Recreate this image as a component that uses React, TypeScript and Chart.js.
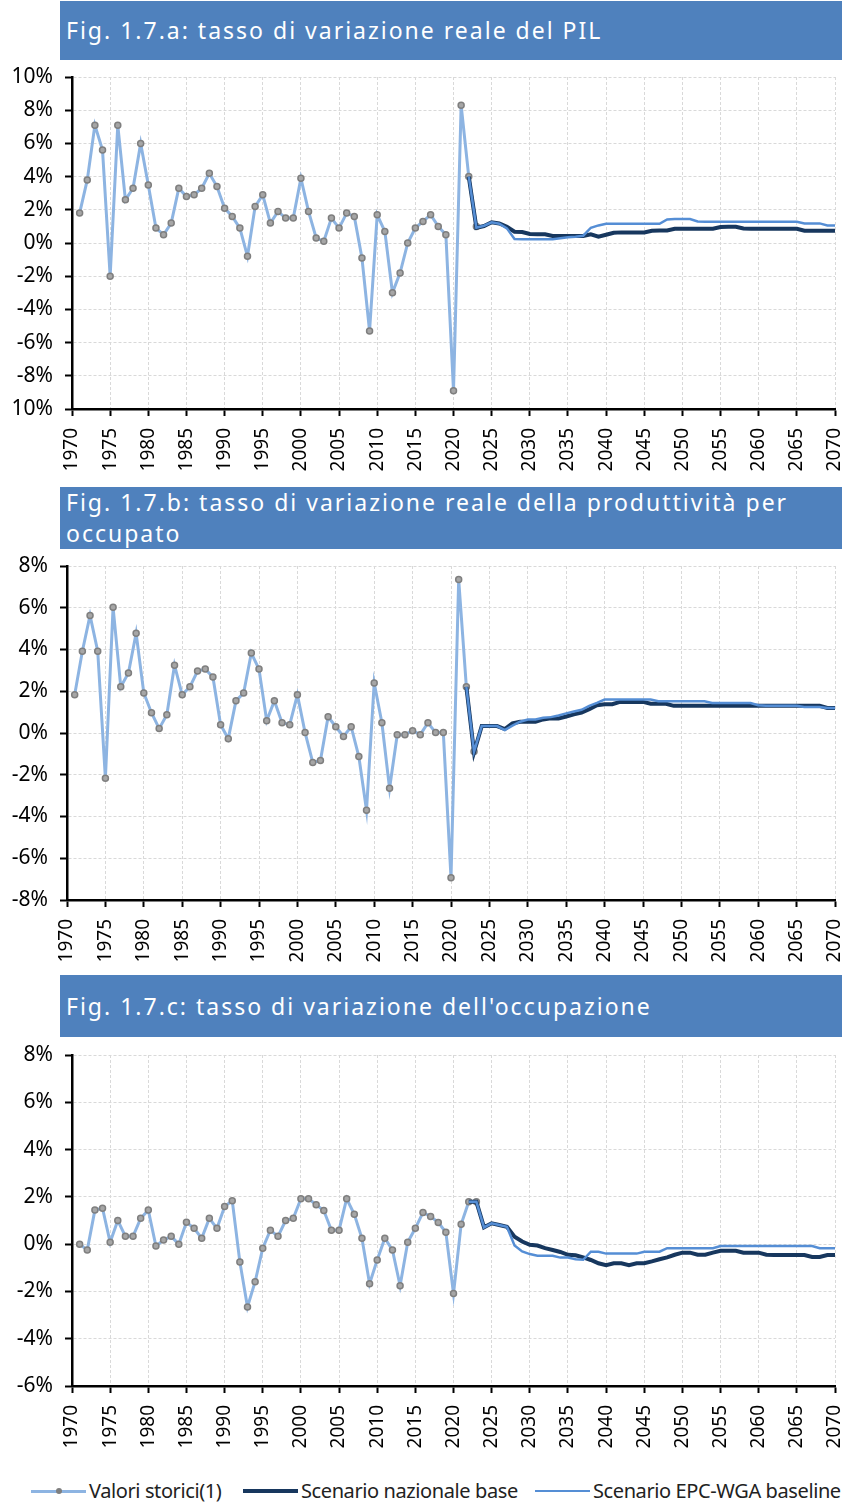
import React, { useEffect, useRef } from "react";
import { Chart, registerables } from "chart.js";
Chart.register(...registerables);

// ---------- DATA ----------
const histYears: number[] = Array.from({ length: 53 }, (_, i) => 1971 + i); // 1971..2023
const scenYears: number[] = Array.from({ length: 49 }, (_, i) => 2022 + i); // 2022..2070
const xTicks: number[] = [1970, 1975, 1980, 1985, 1990, 1995, 2000, 2005, 2010, 2015, 2020, 2025, 2030, 2035, 2040, 2045, 2050, 2055, 2060, 2065, 2070];

// Fig. 1.7.a PIL
const pilHist = [
  1.8, 3.8, 7.1, 5.6, -2.0, 7.1, 2.6, 3.3, 6.0, 3.5,
  0.9, 0.5, 1.2, 3.3, 2.8, 2.9, 3.3, 4.2, 3.4, 2.1,
  1.6, 0.9, -0.8, 2.2, 2.9, 1.2, 1.9, 1.5, 1.5, 3.9,
  1.9, 0.3, 0.1, 1.5, 0.9, 1.8, 1.6, -0.9, -5.3, 1.7,
  0.7, -3.0, -1.8, 0.0, 0.9, 1.3, 1.7, 1.0, 0.5, -8.9,
  8.3, 4.0, 1.0,
];
const pilNaz = [
  4.0, 0.92, 1.02, 1.25, 1.18, 0.98, 0.68, 0.66, 0.54, 0.52,
  0.52, 0.42, 0.42, 0.42, 0.42, 0.42, 0.52, 0.38, 0.5, 0.62,
  0.64, 0.64, 0.64, 0.64, 0.74, 0.76, 0.76, 0.86, 0.86, 0.86,
  0.86, 0.86, 0.86, 0.96, 0.98, 0.98, 0.88, 0.86, 0.86, 0.86,
  0.86, 0.86, 0.86, 0.86, 0.74, 0.74, 0.74, 0.74, 0.74,
];
const pilEpc = [
  4.0, 0.92, 1.04, 1.25, 1.16, 0.88, 0.24, 0.22, 0.22, 0.22,
  0.22, 0.22, 0.28, 0.34, 0.38, 0.44, 0.92, 1.06, 1.16, 1.16,
  1.16, 1.16, 1.16, 1.16, 1.16, 1.16, 1.42, 1.44, 1.44, 1.44,
  1.3, 1.28, 1.28, 1.28, 1.28, 1.28, 1.28, 1.28, 1.28, 1.28,
  1.28, 1.28, 1.28, 1.28, 1.18, 1.18, 1.18, 1.06, 1.06,
];

// Fig. 1.7.b produttività per occupato
const prodHist = [
  1.83, 3.92, 5.63, 3.92, -2.17, 6.02, 2.21, 2.87, 4.78, 1.92,
  0.97, 0.21, 0.87, 3.25, 1.83, 2.21, 2.97, 3.06, 2.68, 0.4,
  -0.27, 1.54, 1.92, 3.83, 3.06, 0.59, 1.54, 0.49, 0.4, 1.83,
  0.02, -1.41, -1.32, 0.78, 0.3, -0.17, 0.3, -1.13, -3.7, 2.4,
  0.49, -2.65, -0.08, -0.08, 0.11, -0.08, 0.49, 0.02, 0.02, -6.94,
  7.35, 2.21, -0.89,
];
const prodNaz = [
  2.21, -0.92, 0.33, 0.33, 0.33, 0.19, 0.46, 0.54, 0.54, 0.54,
  0.65, 0.7, 0.7, 0.79, 0.89, 0.98, 1.14, 1.33, 1.38, 1.38,
  1.49, 1.49, 1.49, 1.49, 1.4, 1.4, 1.4, 1.3, 1.3, 1.3,
  1.3, 1.3, 1.3, 1.3, 1.3, 1.3, 1.3, 1.3, 1.3, 1.3,
  1.3, 1.3, 1.3, 1.3, 1.3, 1.3, 1.3, 1.2, 1.2,
];
const prodEpc = [
  2.21, -0.89, 0.33, 0.33, 0.33, 0.14, 0.35, 0.54, 0.65, 0.65,
  0.73, 0.76, 0.84, 0.94, 1.03, 1.11, 1.3, 1.44, 1.6, 1.6,
  1.6, 1.6, 1.6, 1.6, 1.6, 1.52, 1.52, 1.52, 1.52, 1.52,
  1.52, 1.52, 1.44, 1.44, 1.44, 1.44, 1.44, 1.44, 1.33, 1.3,
  1.3, 1.3, 1.3, 1.3, 1.25, 1.25, 1.25, 1.2, 1.2,
];

// Fig. 1.7.c occupazione
const occHist = [
  0.0, -0.25, 1.44, 1.52, 0.08, 1.0, 0.33, 0.33, 1.09, 1.44,
  -0.08, 0.17, 0.33, 0.0, 0.93, 0.67, 0.25, 1.09, 0.67, 1.59,
  1.84, -0.75, -2.66, -1.59, -0.17, 0.59, 0.33, 1.0, 1.09, 1.92,
  1.92, 1.67, 1.42, 0.59, 0.59, 1.92, 1.26, 0.25, -1.67, -0.67,
  0.25, -0.25, -1.76, 0.08, 0.67, 1.34, 1.17, 0.92, 0.5, -2.09,
  0.84, 1.79, 1.79,
];
const occNaz = [
  1.79, 1.79, 0.71, 0.88, 0.81, 0.73, 0.31, 0.11, -0.03, -0.06,
  -0.17, -0.25, -0.33, -0.45, -0.47, -0.56, -0.67, -0.81, -0.89, -0.81,
  -0.81, -0.89, -0.81, -0.81, -0.73, -0.64, -0.56, -0.45, -0.36, -0.36,
  -0.45, -0.45, -0.36, -0.28, -0.28, -0.28, -0.36, -0.36, -0.36, -0.45,
  -0.46, -0.46, -0.46, -0.46, -0.46, -0.54, -0.54, -0.46, -0.46,
];
const occEpc = [
  1.79, 1.79, 0.71, 0.88, 0.81, 0.73, -0.06, -0.31, -0.42, -0.49,
  -0.49, -0.49, -0.57, -0.57, -0.64, -0.66, -0.32, -0.32, -0.4, -0.4,
  -0.4, -0.4, -0.4, -0.32, -0.32, -0.32, -0.17, -0.17, -0.17, -0.17,
  -0.17, -0.17, -0.17, -0.08, -0.08, -0.08, -0.08, -0.08, -0.08, -0.08,
  -0.08, -0.08, -0.08, -0.08, -0.08, -0.08, -0.17, -0.17, -0.17,
];

const legendLabels = ["Valori storici(1)", "Scenario nazionale base", "Scenario EPC-WGA baseline"];
const titles = [
  ["Fig. 1.7.a: tasso di variazione reale del PIL"],
  ["Fig. 1.7.b: tasso di variazione reale della produttività per", "occupato"],
  ["Fig. 1.7.c: tasso di variazione dell'occupazione"],
];

// ---------- STYLE ----------
const C_HIST = "#8DB4E2";
const C_NAZ = "#17375E";
const C_EPC = "#558ED5";
const FONT = "'Noto Sans', 'DejaVu Sans', sans-serif";

type Cfg = {
  hist: number[];
  naz: number[];
  epc: number[];
  yMin: number;
  yMax: number;
  top: number;
  height: number;
  padTop: number;
  axisLeft: number;
  plotBottom: number; // canvas coord
  labelMinusHidden?: boolean;
};

const zeroPad = (s: any) => {
  s.paddingLeft = 0;
  s.paddingRight = 0;
  s.paddingTop = 0;
  s.paddingBottom = 0;
};

function LineChart({ cfg }: { cfg: Cfg }) {
  const ref = useRef<HTMLCanvasElement | null>(null);
  useEffect(() => {
    if (!ref.current) return;
    const toPts = (xs: number[], ys: number[]) => xs.map((x, i) => ({ x, y: ys[i] }));
    const xAxisH = cfg.height - cfg.plotBottom;
    const chart = new Chart(ref.current, {
      type: "line",
      data: {
        datasets: [
          {
            label: legendLabels[2],
            data: toPts(scenYears, cfg.epc),
            borderColor: C_EPC,
            borderWidth: 2.5,
            pointRadius: 0,
            tension: 0,
            order: 0,
          },
          {
            label: legendLabels[1],
            data: toPts(scenYears, cfg.naz),
            borderColor: C_NAZ,
            borderWidth: 4,
            pointRadius: 0,
            tension: 0,
            order: 1,
          },
          {
            label: legendLabels[0],
            data: toPts(histYears, cfg.hist),
            borderColor: C_HIST,
            borderWidth: 3,
            pointRadius: 3,
            pointBackgroundColor: "#A6A6A6",
            pointBorderColor: "#7F7F7F",
            pointBorderWidth: 1.5,
            tension: 0,
            order: 2,
          },
        ],
      },
      options: {
        animation: false,
        responsive: false,
        maintainAspectRatio: false,
        layout: { padding: { top: cfg.padTop, right: 13, left: 0, bottom: 0 } },
        plugins: { legend: { display: false }, tooltip: { enabled: false } },
        scales: {
          x: {
            type: "linear",
            min: 1970,
            max: 2070,
            afterBuildTicks: (s: any) => {
              s.ticks = xTicks.map((v) => ({ value: v }));
            },
            afterFit: (s: any) => {
              s.height = xAxisH;
              zeroPad(s);
            },
            ticks: {
              autoSkip: false,
              minRotation: 90,
              maxRotation: 90,
              padding: 12,
              color: "#000",
              font: { family: FONT, size: 19 },
              callback: (v: any) => String(v),
            },
            grid: {
              color: "#D9D9D9",
              lineWidth: 1,
              tickColor: "#000",
              tickWidth: 2,
              tickLength: 7,
            },
            border: { color: "#000", width: 2.5, dash: [3, 2] },
          },
          y: {
            min: cfg.yMin,
            max: cfg.yMax,
            afterFit: (s: any) => {
              s.width = cfg.axisLeft;
              zeroPad(s);
            },
            ticks: {
              stepSize: 2,
              padding: 12,
              color: "#000",
              font: { family: FONT, size: 21 },
              callback: (v: any) => (cfg.labelMinusHidden && v === cfg.yMin ? `${Math.abs(v)}%` : `${v}%`),
            },
            grid: {
              color: "#D9D9D9",
              lineWidth: 1,
              tickColor: "#000",
              tickWidth: 2,
              tickLength: 7,
            },
            border: { color: "#000", width: 2.5, dash: [3, 2] },
          },
        },
      },
    } as any);
    return () => chart.destroy();
  }, [cfg]);
  return (
    <canvas
      ref={ref}
      width={848}
      height={cfg.height}
      style={{ position: "absolute", left: 0, top: cfg.top, width: 848, height: cfg.height }}
    />
  );
}

const cfgs: Cfg[] = [
  { hist: pilHist, naz: pilNaz, epc: pilEpc, yMin: -10, yMax: 10, top: 62, height: 420, padTop: 15, axisLeft: 72, plotBottom: 347, labelMinusHidden: true },
  { hist: prodHist, naz: prodNaz, epc: prodEpc, yMin: -8, yMax: 8, top: 551, height: 422, padTop: 15, axisLeft: 67, plotBottom: 349 },
  { hist: occHist, naz: occNaz, epc: occEpc, yMin: -6, yMax: 8, top: 1040, height: 419, padTop: 15, axisLeft: 72, plotBottom: 346 },
];

const barTops = [1, 487, 975];
const barHeights = [59, 62, 62];

function TitleBar({ idx }: { idx: number }) {
  const lines = titles[idx];
  return (
    <div
      style={{
        position: "absolute",
        left: 60,
        top: barTops[idx],
        width: 782,
        height: barHeights[idx],
        background: "#4F81BD",
        color: "#fff",
        fontFamily: FONT,
        fontSize: 23,
        letterSpacing: "2px",
        boxSizing: "border-box",
        paddingLeft: 6,
        display: "flex",
        flexDirection: "column",
        justifyContent: "center",
        lineHeight: "31px",
      }}
    >
      {lines.map((l, i) => (
        <div key={i} style={{ whiteSpace: "nowrap" }}>
          {l}
        </div>
      ))}
    </div>
  );
}

function Legend() {
  const items = [
    { x1: 31, x2: 86, color: C_HIST, w: 3, marker: true, tx: 89 },
    { x1: 243, x2: 298, color: C_NAZ, w: 4, marker: false, tx: 301 },
    { x1: 535, x2: 590, color: C_EPC, w: 2.5, marker: false, tx: 593 },
  ];
  const cy = 1491;
  return (
    <>
      {items.map((it, i) => (
        <React.Fragment key={i}>
          <div
            style={{
              position: "absolute",
              left: it.x1,
              top: cy - it.w / 2,
              width: it.x2 - it.x1,
              height: it.w,
              background: it.color,
            }}
          />
          {it.marker && (
            <div
              style={{
                position: "absolute",
                left: (it.x1 + it.x2) / 2 - 3,
                top: cy - 3,
                width: 6,
                height: 6,
                borderRadius: 3,
                background: "#7F7F7F",
              }}
            />
          )}
          <div
            style={{
              position: "absolute",
              left: it.tx,
              top: cy - 13,
              height: 26,
              lineHeight: "26px",
              fontFamily: FONT,
              fontSize: 20,
              letterSpacing: "-0.4px",
              color: "#222",
              whiteSpace: "nowrap",
            }}
          >
            {legendLabels[i]}
          </div>
        </React.Fragment>
      ))}
    </>
  );
}

export default function App() {
  return (
    <div style={{ position: "absolute", left: 0, top: 0, width: 848, height: 1506, background: "#fff", overflow: "hidden" }}>
      {cfgs.map((c, i) => (
        <React.Fragment key={i}>
          <TitleBar idx={i} />
          <LineChart cfg={c} />
        </React.Fragment>
      ))}
      <Legend />
    </div>
  );
}
